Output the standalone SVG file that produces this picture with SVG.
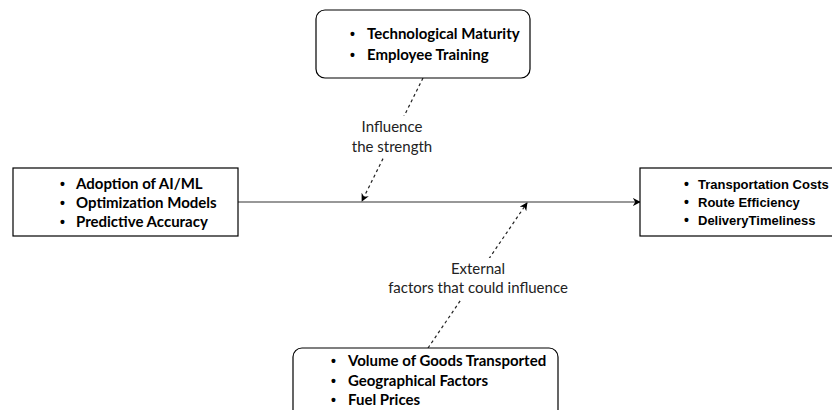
<svg xmlns="http://www.w3.org/2000/svg" width="832" height="410" viewBox="0 0 832 410">
<style>
.box{fill:#fff;stroke:#000;stroke-width:1.2}
.c{font-family:Lato,"Liberation Sans",sans-serif;font-weight:bold;font-size:15px;fill:#000}
.a{font-family:"Liberation Sans",Arial,sans-serif;font-weight:bold;font-size:13px;fill:#000}
.b{font-family:"Liberation Sans",Arial,sans-serif;font-weight:bold;font-size:14px;fill:#000}
.lbl{font-family:Lato,"Liberation Sans",sans-serif;font-size:15px;fill:#222;text-anchor:middle}
.dash{fill:none;stroke:#222;stroke-width:1.2;stroke-dasharray:3 3}
.solid{fill:none;stroke:#333;stroke-width:1.2}
</style>
<defs>
<marker id="arr" viewBox="0 0 10 10" refX="9" refY="5" markerWidth="8" markerHeight="8" markerUnits="userSpaceOnUse" orient="auto">
<path d="M0,0 L10,5 L0,10 L3,5 Z" fill="#000"/>
</marker>
</defs>
<g id="connectors">
<line class="solid" x1="238" y1="202" x2="640" y2="202" marker-end="url(#arr)"/>
<line class="dash" x1="423" y1="78" x2="362" y2="201" marker-end="url(#arr)"/>
<line class="dash" x1="428" y1="348" x2="527" y2="203" marker-end="url(#arr)"/>
<g id="label-top">
<rect x="350" y="116" width="86" height="42" fill="#fff"/>
<text class="lbl" x="392" y="132">Influence</text>
<text class="lbl" x="392" y="152">the strength</text>
</g>
<g id="label-bottom">
<rect x="385" y="258" width="188" height="42" fill="#fff"/>
<text class="lbl" x="478" y="274">External</text>
<text class="lbl" x="478" y="293">factors that could influence</text>
</g>
</g>
<g id="node-moderators">
<rect class="box" x="316" y="10" width="214" height="68" rx="9"/>
<text class="b" x="350" y="39">•</text><text class="c" x="367" y="39">Technological Maturity</text>
<text class="b" x="350" y="60">•</text><text class="c" x="367" y="60">Employee Training</text>
</g>
<g id="node-independent">
<rect class="box" x="13" y="168" width="225" height="68"/>
<text class="b" x="60" y="189">•</text><text class="c" x="76" y="189">Adoption of AI/ML</text>
<text class="b" x="60" y="208">•</text><text class="c" x="76" y="208">Optimization Models</text>
<text class="b" x="60" y="227">•</text><text class="c" x="76" y="227">Predictive Accuracy</text>
</g>
<g id="node-dependent">
<rect class="box" x="640" y="168" width="200" height="68"/>
<text class="b" x="684" y="189">•</text><text class="a" x="698" y="189">Transportation Costs</text>
<text class="b" x="684" y="207">•</text><text class="a" x="698" y="207">Route Efficiency</text>
<text class="b" x="684" y="225">•</text><text class="a" x="698" y="225">DeliveryTimeliness</text>
</g>
<g id="node-external">
<rect class="box" x="293" y="348" width="265" height="80" rx="9"/>
<text class="b" x="331" y="366">•</text><text class="c" x="348" y="366">Volume of Goods Transported</text>
<text class="b" x="331" y="386">•</text><text class="c" x="348" y="386">Geographical Factors</text>
<text class="b" x="331" y="405">•</text><text class="c" x="348" y="405">Fuel Prices</text>
</g>
</svg>
